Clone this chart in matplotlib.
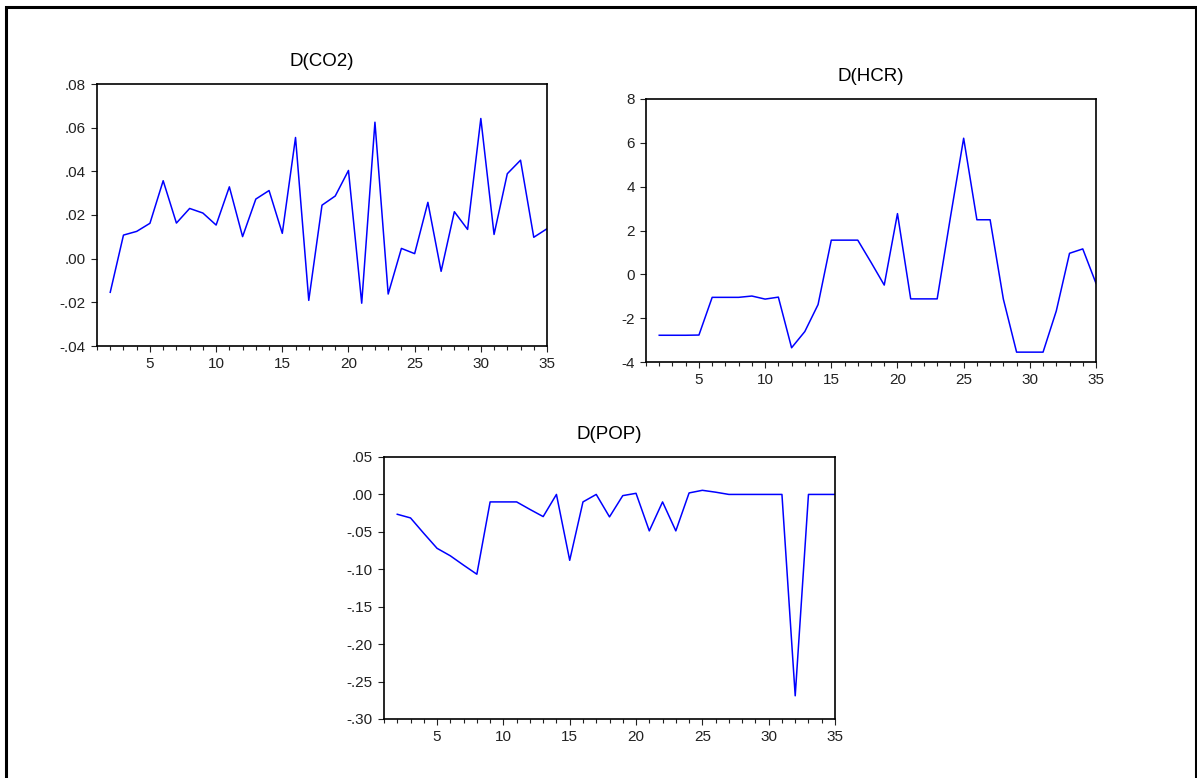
import matplotlib.pyplot as plt
from matplotlib.ticker import FuncFormatter, MultipleLocator
from matplotlib.patches import Rectangle

plt.rcParams['font.family'] = ['Liberation Sans', 'DejaVu Sans']

# Data
years = list(range(2, 36))
d_co2 = [-0.0154, 0.0108, 0.0125, 0.0162, 0.0357, 0.0163, 0.0230, 0.0209, 0.0154,
         0.0329, 0.0101, 0.0273, 0.0312, 0.0116, 0.0555, -0.0191, 0.0245, 0.0287,
         0.0404, -0.0204, 0.0625, -0.0162, 0.0047, 0.0023, 0.0258, -0.0058, 0.0215,
         0.0134, 0.0642, 0.0111, 0.0389, 0.0451, 0.0098, 0.0137]
d_hcr = [-2.78, -2.78, -2.78, -2.77, -1.05, -1.05, -1.05, -0.99, -1.13, -1.04,
         -3.35, -2.61, -1.38, 1.56, 1.56, 1.56, 0.55, -0.49, 2.77, -1.12, -1.12,
         -1.12, 2.6, 6.21, 2.49, 2.49, -1.13, -3.55, -3.55, -3.55, -1.67, 0.96,
         1.16, -0.41]
d_pop = [-0.0265, -0.0314, -0.052, -0.072, -0.082, -0.0945, -0.1066, -0.010,
         -0.010, -0.010, -0.020, -0.0296, 0.0, -0.088, -0.010, 0.0, -0.030,
         -0.0016, 0.0015, -0.0487, -0.010, -0.0487, 0.002, 0.0055, 0.003, 0.0,
         0.0, 0.0, 0.0, 0.0, -0.269, 0.0, 0.0, 0.0]

W, H = 1197, 778
fig = plt.figure(figsize=(W / 100, H / 100), dpi=100)

# outer frame
fig.patches.append(Rectangle((6 / W, -0.05), (1196 - 6) / W, 1.05 - 7 / H,
                             transform=fig.transFigure, fill=False,
                             edgecolor='black', linewidth=2.2))


def dot_fmt(decimals):
    def f(v, pos):
        s = f"{v:.{decimals}f}"
        if s.startswith("-0"):
            return "-" + s[2:]
        if s.startswith("0"):
            return s[1:]
        return s
    return FuncFormatter(f)


def make_panel(box, title, y, ylim, ystep, fmt):
    l, t, r, b = box
    ax = fig.add_axes([l / W, 1 - b / H, (r - l) / W, (b - t) / H])
    ax.plot(years, y, color='#0000ff', linewidth=1.1)
    ax.set_xlim(1, 35)
    ax.set_ylim(*ylim)
    ax.xaxis.set_major_locator(MultipleLocator(5))
    ax.xaxis.set_minor_locator(MultipleLocator(1))
    ax.yaxis.set_major_locator(MultipleLocator(ystep))
    ax.yaxis.set_major_formatter(fmt)
    ax.tick_params(axis='both', which='both', direction='out', labelsize=11,
                   width=0.8, colors='#222222')
    ax.tick_params(axis='x', which='major', length=4, pad=4)
    ax.tick_params(axis='x', which='minor', length=3)
    ax.tick_params(axis='y', length=4, pad=4)
    for sp in ax.spines.values():
        sp.set_linewidth(1.2)
    ax.set_title(title, fontsize=13.5, pad=13)
    return ax


make_panel((97, 84, 547, 346), "D(CO2)", d_co2, (-0.04, 0.08), 0.02, dot_fmt(2))
make_panel((646, 99, 1096, 362), "D(HCR)", d_hcr, (-4, 8), 2,
           FuncFormatter(lambda v, p: f"{v:.0f}"))
make_panel((384, 457, 835, 719), "D(POP)", d_pop, (-0.30, 0.05), 0.05, dot_fmt(2))

fig.savefig("out.png", dpi=100)
